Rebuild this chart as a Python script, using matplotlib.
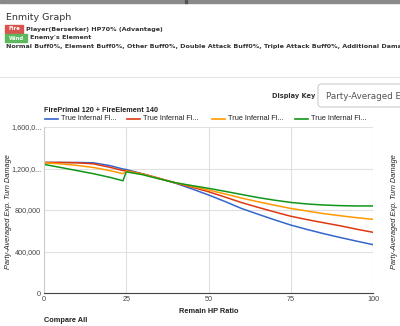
import matplotlib
matplotlib.use("Agg")
import matplotlib.pyplot as plt
from matplotlib.patches import Rectangle, FancyBboxPatch
from matplotlib.ticker import FixedLocator

hp = [0, 5, 10, 15, 20, 24, 25, 30, 35, 40, 45, 50, 55, 60, 65, 70, 75, 80, 85, 90, 95, 100]
blue = [1258, 1258, 1258, 1255, 1228, 1195, 1190, 1148, 1105, 1058, 1003, 945, 882, 815, 760, 706, 655, 612, 572, 535, 500, 466]
red = [1258, 1258, 1255, 1245, 1212, 1180, 1180, 1148, 1105, 1060, 1020, 976, 925, 872, 826, 782, 740, 707, 677, 648, 615, 585]
orange = [1255, 1245, 1230, 1210, 1180, 1150, 1176, 1145, 1105, 1062, 1028, 993, 955, 915, 880, 847, 815, 790, 765, 745, 726, 710]
green = [1240, 1210, 1180, 1150, 1115, 1082, 1168, 1140, 1100, 1063, 1035, 1009, 980, 950, 920, 895, 873, 858, 848, 842, 839, 839]
series_names = ["True Infernal Fl...", "True Infernal Fl...", "True Infernal Fl...", "True Infernal Fl..."]
series_colors = ["#3366cc", "#dc3912", "#ff9900", "#109618"]
y_ticks = [0, 400000, 800000, 1200000, 1600000]
y_labels = ["0", "400,000", "800,000", "1,200,0...", "1,600,0..."]
x_ticks = [0, 25, 50, 75, 100]
x_labels = ["0", "25", "50", "75", "100"]

W, H = 400, 326
plt.rcParams['font.family'] = ['DejaVu Sans']
fig = plt.figure(figsize=(4, 3.26), dpi=100)
fig.patch.set_facecolor("white")
CF = ['Liberation Sans', 'DejaVu Sans']

def fx(px):
    return px / W

def fy(py):
    return 1 - py / H

# top bar
fig.patches.append(Rectangle((0, fy(3)), 1, 3 / H, transform=fig.transFigure, color="#8a8a8a"))
fig.patches.append(Rectangle((fx(185), fy(3)), 2 / W, 3 / H, transform=fig.transFigure, color="#555555"))

fig.text(fx(6), fy(18), "Enmity Graph", fontsize=6.8, color="#333333", va="center", ha="left")
fig.patches.append(Rectangle((fx(5), fy(33)), 18 / W, 8 / H, transform=fig.transFigure, color="#d9534f"))
fig.text(fx(14), fy(29), "Fire", fontsize=3.8, color="white", va="center", ha="center", fontweight="bold")
fig.text(fx(26), fy(29), "Player(Berserker) HP70% (Advantage)", fontsize=4.6, color="#333333", va="center", ha="left", fontweight="bold")
fig.patches.append(Rectangle((fx(5), fy(42)), 22 / W, 8 / H, transform=fig.transFigure, color="#5cb85c"))
fig.text(fx(16), fy(38), "Wind", fontsize=3.8, color="white", va="center", ha="center", fontweight="bold")
fig.text(fx(30), fy(38), "Enemy's Element", fontsize=4.6, color="#333333", va="center", ha="left", fontweight="bold")
fig.text(fx(6), fy(46.5), "Normal Buff0%, Element Buff0%, Other Buff0%, Double Attack Buff0%, Triple Attack Buff0%, Additional Damage Buff0%",
         fontsize=4.6, color="#333333", va="center", ha="left", fontweight="bold")

# separator
fig.lines.append(plt.Line2D([0, 1], [fy(77), fy(77)], transform=fig.transFigure, color="#e5e5e5", lw=0.8))

fig.text(fx(315), fy(96), "Display Key", fontsize=4.8, color="#333333", va="center", ha="right", fontweight="bold")
fig.patches.append(FancyBboxPatch((fx(318), fy(107)), 100 / W, 23 / H, boxstyle="round,pad=0,rounding_size=0.01",
                                  transform=fig.transFigure, facecolor="white", edgecolor="#cccccc", lw=0.8))
fig.text(fx(326), fy(96), "Party-Averaged Exp. Turn Damage", fontsize=6.3, color="#555555", va="center", ha="left")

fig.text(fx(44), fy(110), "FirePrimal 120 + FireElement 140", fontsize=5.2, color="#222222", va="center", ha="left",
         fontweight="bold", family=CF)

# legend
leg_x = [45, 127, 212, 295]
for lx, name, col in zip(leg_x, series_names, series_colors):
    fig.lines.append(plt.Line2D([fx(lx), fx(lx + 13)], [fy(119), fy(119)], transform=fig.transFigure, color=col, lw=1.2))
    fig.text(fx(lx + 16), fy(119), name, fontsize=5.3, color="#222222", va="center", ha="left", family=CF)

ax = fig.add_axes([fx(44), fy(293), fx(373) - fx(44), fy(127) - fy(293)])
for vals, col in zip([blue, red, orange, green], series_colors):
    ax.plot(hp, [v * 1000 for v in vals], color=col, lw=1.1)
ax.set_xlim(0, 100)
ax.set_ylim(0, 1600000)
ax.xaxis.set_major_locator(FixedLocator(x_ticks))
ax.yaxis.set_major_locator(FixedLocator(y_ticks))
ax.set_xticklabels(x_labels, family=CF)
ax.set_yticklabels(y_labels, family=CF)
ax.tick_params(length=0, labelsize=5.2, colors="#444444", pad=2)
ax.grid(True, color="#e0e0e0", lw=0.8)
ax.set_axisbelow(True)
for s in ["top", "right"]:
    ax.spines[s].set_visible(False)
ax.spines["left"].set_color("#cccccc")
ax.spines["bottom"].set_color("#444444")
ax.spines["left"].set_linewidth(0.8)
ax.spines["bottom"].set_linewidth(0.8)
ax.set_xlabel("Remain HP Ratio", fontsize=5.3, fontweight="bold", color="#222222", labelpad=4, family=CF)

fig.text(fx(9), fy(212), "Party-Averaged Exp. Turn Damage", fontsize=5.3, style="italic", color="#222222",
         rotation=90, va="center", ha="center", family=CF)
fig.text(fx(394), fy(212), "Party-Averaged Exp. Turn Damage", fontsize=5.3, style="italic", color="#222222",
         rotation=90, va="center", ha="center", family=CF)

fig.text(fx(44), fy(320), "Compare All", fontsize=5.3, color="#222222", va="center", ha="left", fontweight="bold", family=CF)

fig.savefig("out.png", dpi=100, facecolor="white")
